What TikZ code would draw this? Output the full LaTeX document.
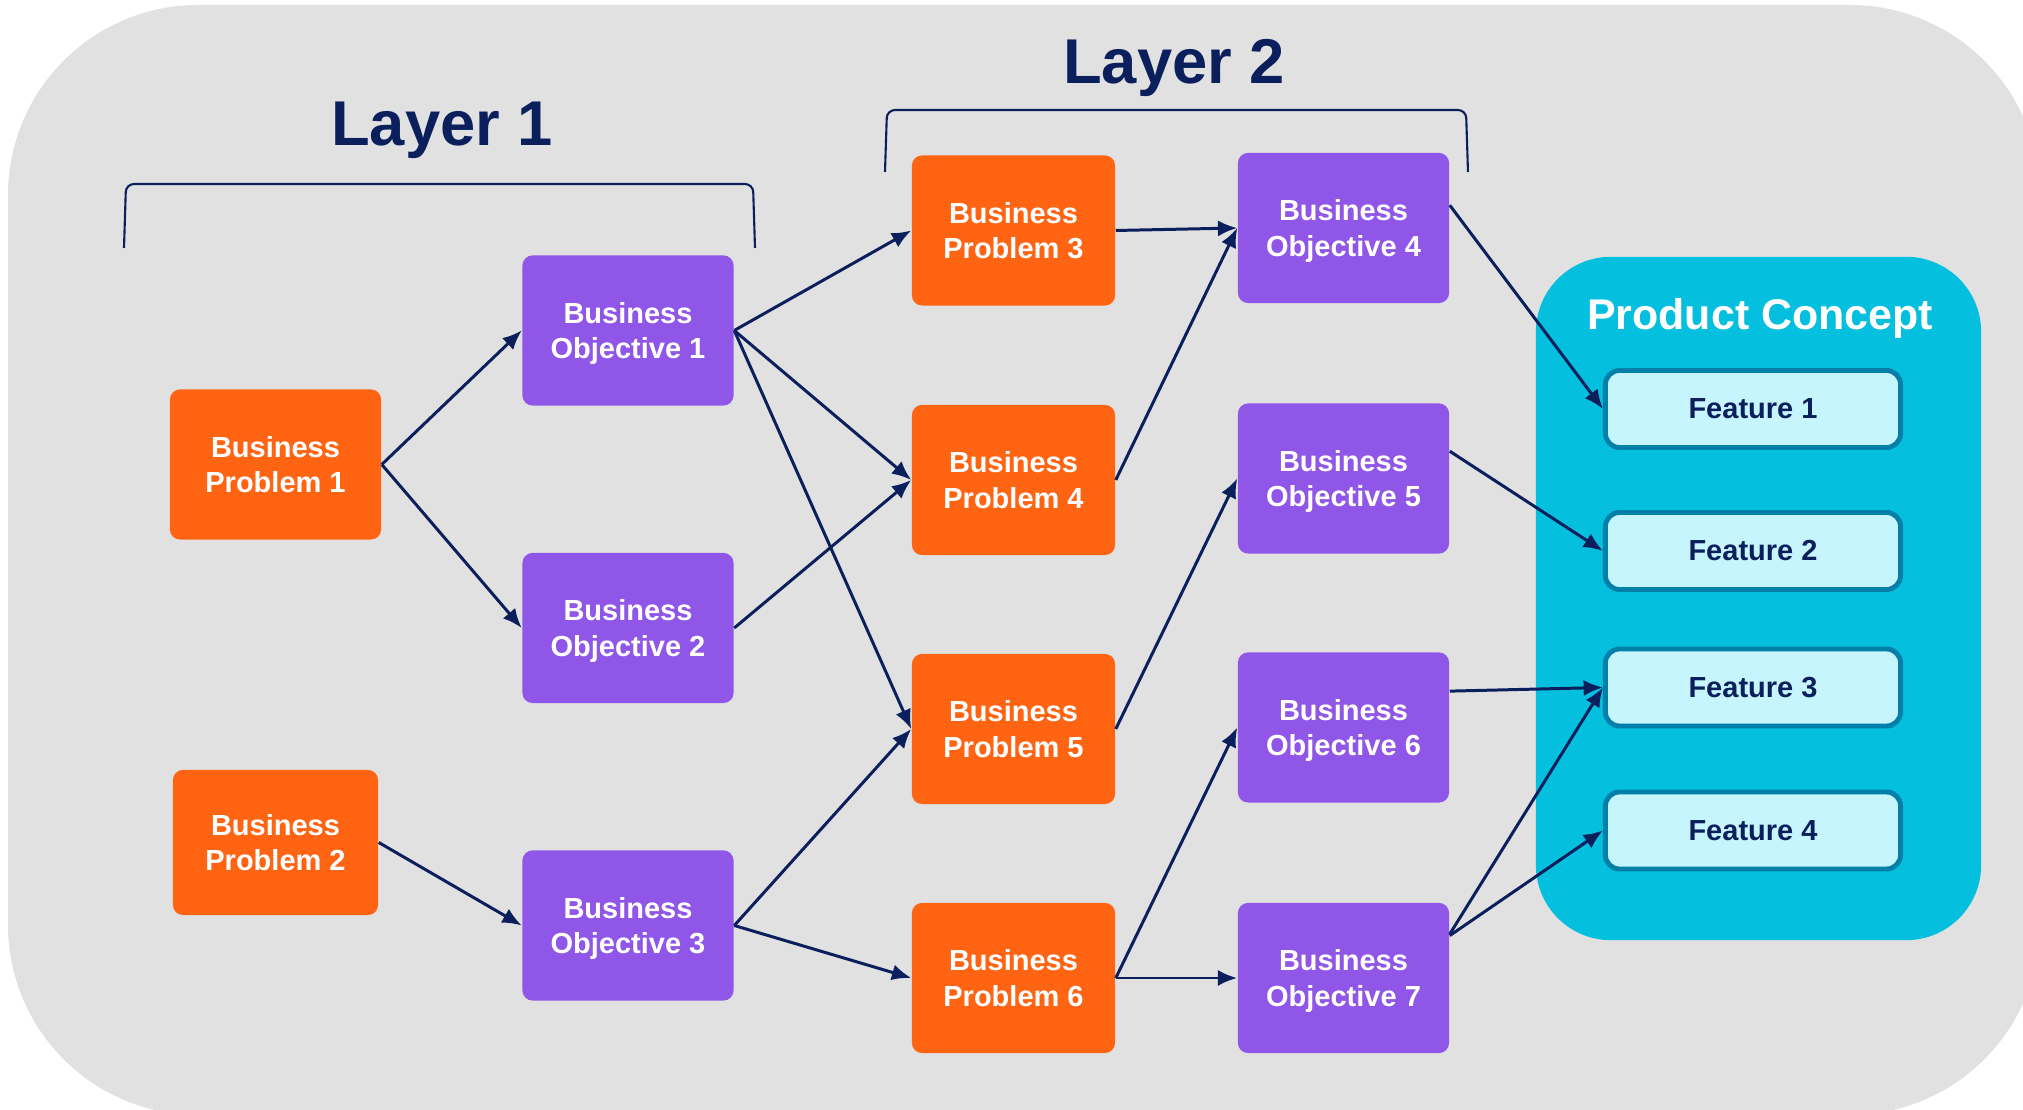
\documentclass[tikz,border=0pt]{standalone}
\usepackage{fontspec}
\setmainfont{Liberation Sans}
\usetikzlibrary{arrows.meta,calc}

\definecolor{bggray}{HTML}{E1E1E1}
\definecolor{bporange}{HTML}{FF6413}
\definecolor{bopurple}{HTML}{8F56E7}
\definecolor{navy}{HTML}{0A1F5C}
\definecolor{pccyan}{HTML}{05BFDF}
\definecolor{featfill}{HTML}{C6F5FD}
\definecolor{featline}{HTML}{0080A8}

\begin{document}
\begin{tikzpicture}[x=0.01cm,y=-0.01cm,
  box/.style={rounded corners=0.1cm, minimum width=2.11cm, minimum height=1.5cm,
    align=center, text=white, inner sep=0pt, text depth=0pt,
    font=\bfseries\fontsize{8.25}{10}\selectfont},
  prob/.style={box, fill=bporange},
  obj/.style={box, fill=bopurple},
  feat/.style={draw=featline, line width=1.4pt, fill=featfill, rounded corners=0.14cm,
    minimum width=2.95cm, minimum height=0.77cm, inner sep=0pt, text=navy,
    font=\bfseries\fontsize{8.25}{10}\selectfont},
  layertitle/.style={anchor=base, text=navy, inner sep=0pt,
    font=\bfseries\fontsize{18}{20}\selectfont},
  bracket/.style={draw=navy, line width=0.6pt, rounded corners=0.08cm},
  link/.style={draw=navy, line width=0.85pt, -{Latex[length=5.5pt,width=4.6pt]}},
]
\clip (0,0) rectangle (2023,1110);

% background panel
\fill[bggray, rounded corners=1.9cm] (8,5) rectangle (2040,1115);

% layer titles and brackets
\node[layertitle] (layer1) at (442,146) {Layer 1};
\node[layertitle] (layer2) at (1174,84) {Layer 2};
\draw[bracket] (124,248) -- (126,184) -- (753,184) -- (755,248);
\draw[bracket] (885,172) -- (887,110) -- (1466,110) -- (1468,172);

% product concept panel
\node[fill=pccyan, rounded corners=0.75cm, minimum width=4.45cm, minimum height=6.83cm,
      inner sep=0pt] (pc) at (1758.5,598.5) {};
\node[anchor=base, text=white, inner sep=0pt,
      font=\bfseries\fontsize{12.2}{14}\selectfont] (pctitle) at (1760,330) {Product Concept};

% layer 1
\node[prob] (bp1) at (275.5,464.5) {Business\\Problem 1};
\node[prob, minimum width=2.05cm, minimum height=1.45cm] (bp2) at (275.5,842.5) {Business\\Problem 2};
\node[obj] (bo1) at (628,330.5) {Business\\Objective 1};
\node[obj] (bo2) at (628,628) {Business\\Objective 2};
\node[obj] (bo3) at (628,925.5) {Business\\Objective 3};

% layer 2
\node[prob, minimum width=2.03cm] (bp3) at (1013.5,230.5) {Business\\Problem 3};
\node[prob, minimum width=2.03cm] (bp4) at (1013.5,480) {Business\\Problem 4};
\node[prob, minimum width=2.03cm] (bp5) at (1013.5,729) {Business\\Problem 5};
\node[prob, minimum width=2.03cm] (bp6) at (1013.5,978) {Business\\Problem 6};
\node[obj] (bo4) at (1343.5,228) {Business\\Objective 4};
\node[obj] (bo5) at (1343.5,478.5) {Business\\Objective 5};
\node[obj] (bo6) at (1343.5,727.5) {Business\\Objective 6};
\node[obj] (bo7) at (1343.5,978) {Business\\Objective 7};

% features
\node[feat] (f1) at (1753,409) {Feature 1};
\node[feat] (f2) at (1753,551) {Feature 2};
\node[feat] (f3) at (1753,687.5) {Feature 3};
\node[feat] (f4) at (1753,830.5) {Feature 4};

% connectors
\draw[link] (bp1.east) -- (bo1.west);
\draw[link] (bp1.east) -- (bo2.west);
\draw[link] (bp2.east) -- (bo3.west);
\draw[link] (bo1.east) -- (bp3.west);
\draw[link] (bo1.east) -- (bp4.west);
\draw[link] (bo1.east) -- (bp5.west);
\draw[link] (bo2.east) -- (bp4.west);
\draw[link] (bo3.east) -- (bp5.west);
\draw[link] (bo3.east) -- (bp6.west);
\draw[link] (bp3.east) -- (bo4.west);
\draw[link] (bp4.east) -- (bo4.west);
\draw[link] (bp5.east) -- (bo5.west);
\draw[link] (bp6.east) -- (bo6.west);
\draw[link] (bp6.east) -- (bo7.west);
\draw[link] ($(bo4.north east)!0.35!(bo4.south east)$) -- (f1.west);
\draw[link] ($(bo5.north east)!0.32!(bo5.south east)$) -- (f2.west);
\draw[link] ($(bo6.north east)!0.26!(bo6.south east)$) -- (f3.west);
\draw[link] ($(bo7.north east)!0.21!(bo7.south east)$) -- (f3.west);
\draw[link] ($(bo7.north east)!0.22!(bo7.south east)$) -- (f4.west);
\end{tikzpicture}
\end{document}
